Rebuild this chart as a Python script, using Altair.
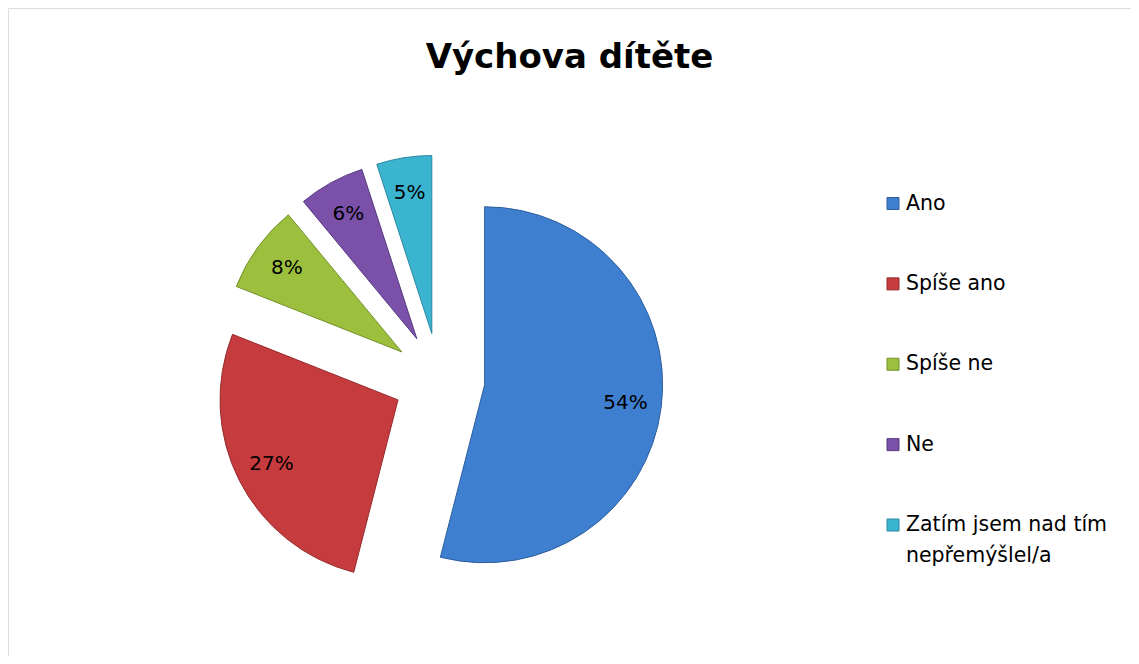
import math
import altair as alt
import pandas as pd

# ---- data ----
categories = ["Ano", "Spíše ano", "Spíše ne", "Ne", "Zatím jsem nad tím nepřemýšlel/a"]
values = [54, 27, 8, 6, 5]
legend_labels = ["Ano", "Spíše ano", "Spíše ne", "Ne", "Zatím jsem nad tím\nnepřemýšlel/a"]
colors = ["#3F7FD0", "#C63B3D", "#9CC03E", "#7A50A8", "#3BB4D0"]
edge_colors = ["#2D5E9E", "#962B2D", "#74922C", "#573981", "#2A88A2"]

# ---- layout constants ----
W, H = 1123, 648
CX, CY = 431, 371      # pie centre (before explosion)
R = 178                # pie radius
EXPLODE = 46           # explosion distance
LABEL_R = 188          # label distance from pie centre
FONT = "DejaVu Sans"

df = pd.DataFrame({
    "idx": list(range(len(categories))),
    "cat": categories,
    "value": values,
    "legend": legend_labels,
})

base = alt.Chart(df).transform_window(
    cum="sum(value)", sort=[alt.SortField("idx")], frame=[None, 0]
).transform_joinaggregate(
    total="sum(value)"
).transform_calculate(
    p0="(datum.cum - datum.value) / datum.total * 100",
    p1="datum.cum / datum.total * 100",
    lab="datum.value + '%'",
).transform_calculate(
    mid="(datum.p0 + datum.p1) / 100 * PI",
).transform_calculate(
    ex=f"{CX} + {EXPLODE} * sin(datum.mid)",
    ey=f"{CY} - {EXPLODE} * cos(datum.mid)",
    lx=f"{CX} + {LABEL_R} * sin(datum.mid)",
    ly=f"{CY} - {LABEL_R} * cos(datum.mid)",
)

color_scale = alt.Scale(domain=categories, range=colors)
edge_scale = alt.Scale(domain=categories, range=edge_colors)

slices = base.mark_arc(radius=R, strokeWidth=1).encode(
    theta=alt.Theta("p0:Q", scale=alt.Scale(domain=[0, 100], range=[0, 2 * math.pi])),
    theta2="p1:Q",
    x=alt.X("ex:Q", scale=None, axis=None),
    y=alt.Y("ey:Q", scale=None, axis=None),
    color=alt.Color("cat:N", scale=color_scale, legend=None),
    stroke=alt.Stroke("cat:N", scale=edge_scale, legend=None),
)

labels = base.mark_text(font=FONT, fontSize=20, color="#000000").encode(
    x=alt.X("lx:Q", scale=None, axis=None),
    y=alt.Y("ly:Q", scale=None, axis=None),
    text="lab:N",
)

leg_scale = alt.Scale(domain=categories, range=[195.5, 517], padding=0)

leg_sq = alt.Chart(df).mark_square(size=144, opacity=1, strokeWidth=1).encode(
    x=alt.value(885),
    y=alt.Y("cat:N", scale=leg_scale, axis=None),
    color=alt.Color("cat:N", scale=color_scale, legend=None),
    stroke=alt.Stroke("cat:N", scale=edge_scale, legend=None),
)

leg_txt = alt.Chart(df).mark_text(
    align="left", baseline="alphabetic", dy=6, lineBreak="\n", lineHeight=31,
    font=FONT, fontSize=20.5, color="#000000",
).encode(
    x=alt.value(898),
    y=alt.Y("cat:N", scale=leg_scale, axis=None),
    text="legend:N",
)

pie = alt.layer(slices, labels)
legend = alt.layer(leg_sq, leg_txt)

chart = alt.layer(pie, legend).resolve_scale(
    x="independent", y="independent"
).properties(
    width=W,
    height=H,
    padding=0,
    autosize=alt.AutoSizeParams(type="none"),
    title=alt.TitleParams(
        "Výchova dítěte", font=FONT, fontSize=34, fontWeight="bold",
        color="#000000", anchor="middle", baseline="alphabetic", offset=0, dy=94,
    ),
).configure_view(
    stroke="#8c8c8c", strokeWidth=2.5, fill="#ffffff"
).configure(background="#ffffff")

chart.save("out.html", embed_options={"renderer": "svg", "actions": False})
